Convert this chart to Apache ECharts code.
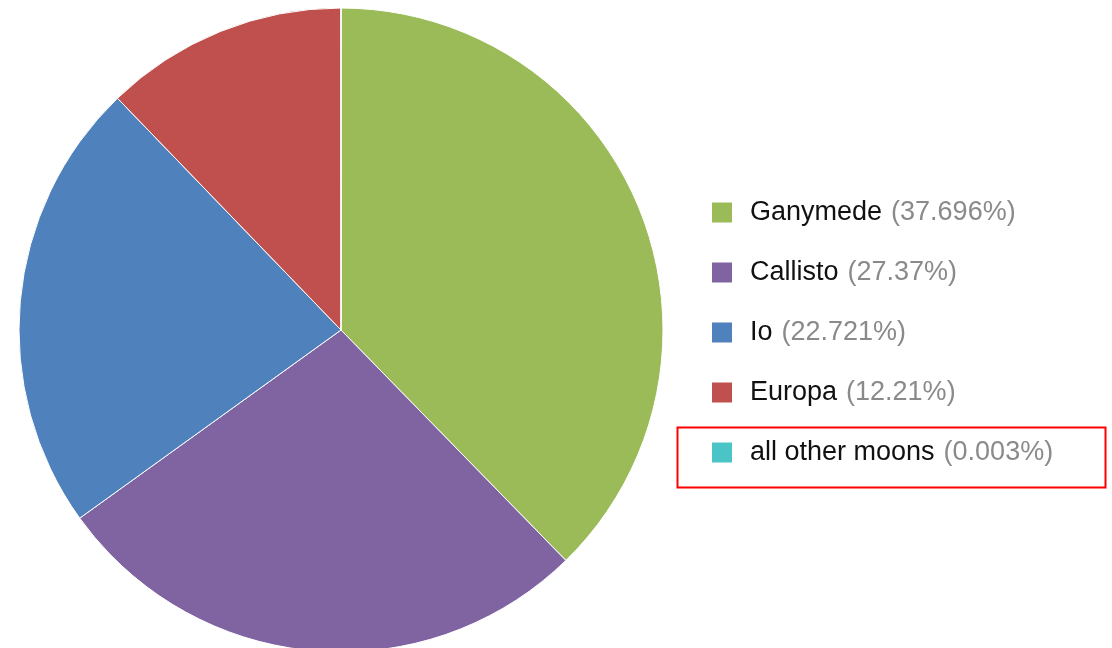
<!DOCTYPE html>
<html>
<head>
<meta charset="utf-8">
<script src="https://cdn.jsdelivr.net/npm/echarts@6/dist/echarts.min.js"></script>
<style>
  html, body { margin: 0; padding: 0; background: #fff; }
  #chart { width: 1112px; height: 648px; }
</style>
</head>
<body>
<div id="chart"></div>
<script>
// moon names, share of total mass (%), and the text shown in the legend
const moons = ['Ganymede', 'Callisto', 'Io', 'Europa', 'all other moons']
const shares = [37.696, 27.37, 22.721, 12.21, 0.003]
const shareLabels = ['37.696%', '27.37%', '22.721%', '12.21%', '0.003%']
const colors = ['#9bbb59', '#8064a2', '#4f81bd', '#c0504d', '#4bc4c6']

const myChart = echarts.init(document.getElementById('chart'))

const option = {
    color: colors,
    animation: false,
    legend: {
        orient: 'vertical',
        left: 712,
        top: 199,
        padding: 0,
        itemWidth: 20,
        itemHeight: 20,
        itemGap: 33,
        icon: 'rect',
        itemStyle: { borderWidth: 0 },
        data: moons,
        formatter: function (name) {
            const i = moons.indexOf(name)
            return '{n|' + name + '}{p|(' + shareLabels[i] + ')}'
        },
        textStyle: {
            padding: [0, 0, 0, 13],
            rich: {
                n: { fontFamily: 'Liberation Sans', fontSize: 27, color: '#111' },
                p: { fontFamily: 'Liberation Sans', fontSize: 27, color: '#8a8a8a', padding: [0, 0, 0, 9] }
            }
        }
    },
    graphic: [
        {
            type: 'rect',
            shape: { x: 677.5, y: 427.5, width: 428, height: 60 },
            style: { fill: 'none', stroke: '#ff0000', lineWidth: 2 }
        }
    ],
    series: [
        {
            type: 'pie',
            center: [341, 330],
            radius: 322,
            startAngle: 90,
            clockwise: true,
            label: { show: false },
            labelLine: { show: false },
            itemStyle: { borderColor: '#fff', borderWidth: 1 },
            data: moons.map((name, i) => ({ name: name, value: shares[i] }))
        }
    ]
}

myChart.setOption(option)
</script>
</body>
</html>
